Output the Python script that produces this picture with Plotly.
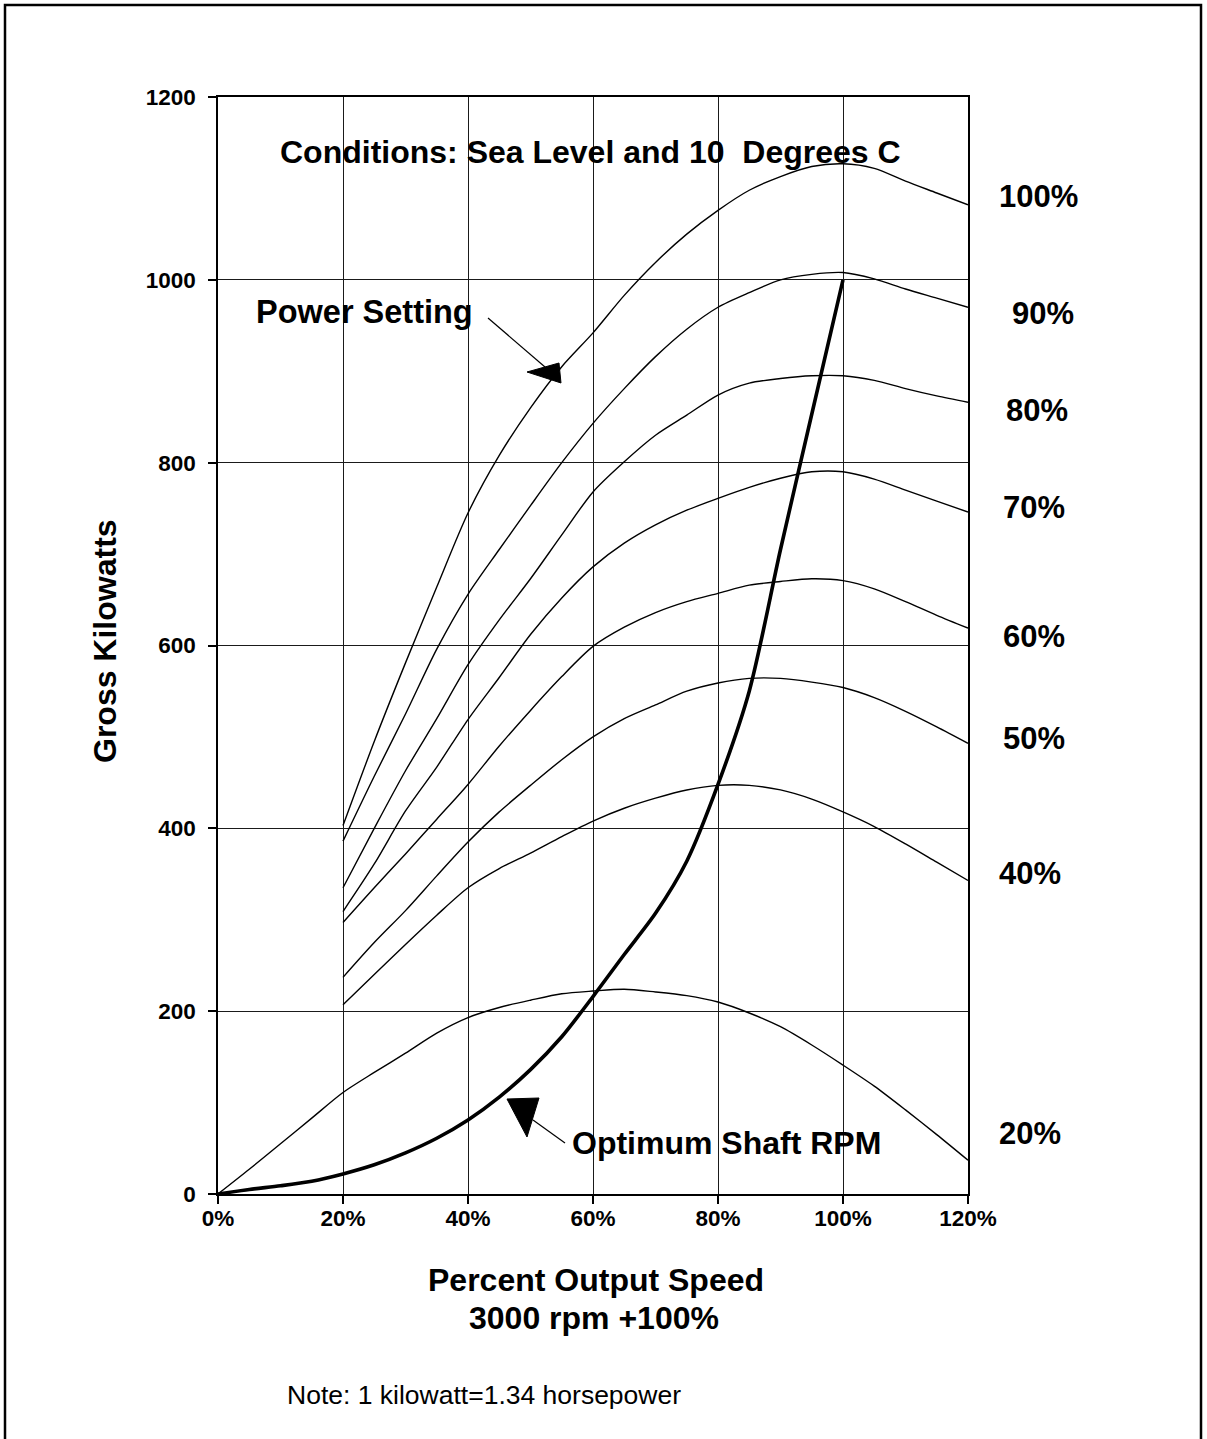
import plotly.graph_objects as go

# ---------------- data ----------------
speed_pct = [20, 25, 30, 35, 40, 45, 50, 55, 60, 65, 70, 75, 80, 85, 90, 95, 100, 105, 110, 115, 120]
kw_100 = [403, 495, 581, 664, 745, 808, 860, 905, 942, 983, 1019, 1050, 1076, 1098, 1113, 1124, 1127, 1122, 1108, 1095, 1082]
kw_90 = [386, 457, 525, 596, 656, 705, 753, 800, 843, 881, 916, 946, 970, 986, 1000, 1006, 1008, 1001, 990, 980, 970]
kw_80 = [335, 400, 463, 520, 579, 628, 673, 721, 768, 801, 830, 852, 874, 887, 892, 895, 895, 890, 881, 873, 866]
kw_70 = [309, 361, 419, 467, 519, 565, 612, 652, 686, 712, 732, 748, 761, 773, 783, 790, 790, 782, 770, 758, 746]
kw_60 = [297, 335, 372, 410, 448, 490, 529, 566, 599, 620, 636, 648, 657, 666, 670, 673, 671, 662, 648, 633, 619]
kw_50 = [237, 275, 310, 348, 385, 418, 447, 475, 500, 520, 535, 550, 559, 564, 564, 560, 554, 543, 528, 511, 493]
kw_40 = [207, 240, 273, 305, 335, 356, 373, 391, 408, 422, 433, 442, 447, 447, 442, 432, 418, 402, 383, 363, 343]

speed_pct_full = [0, 5, 10, 15, 20, 25, 30, 35, 40, 45, 50, 55, 60, 65, 70, 75, 80, 85, 90, 95, 100, 105, 110, 115, 120]
kw_20 = [0, 27, 55, 83, 111, 133, 154, 176, 193, 204, 212, 219, 222, 224, 221, 217, 210, 198, 183, 163, 141, 118, 92, 65, 37]

speed_pct_opt = [0, 5, 10, 15, 20, 25, 30, 35, 40, 45, 50, 55, 60, 65, 70, 75, 80, 85, 90, 95, 100]
kw_optimum = [0, 5, 9, 14, 22, 32, 45, 61, 81, 106, 136, 172, 216, 262, 307, 364, 448, 550, 705, 853, 1000]

power_labels = ["100%", "90%", "80%", "70%", "60%", "50%", "40%", "20%"]
x_tick_vals = [0, 20, 40, 60, 80, 100, 120]
x_tick_text = ["0%", "20%", "40%", "60%", "80%", "100%", "120%"]
y_tick_vals = [0, 200, 400, 600, 800, 1000, 1200]
y_tick_text = ["0", "200", "400", "600", "800", "1000", "1200"]

# ---------------- layout geometry ----------------
W, H = 1207, 1439
L, R, T, B = 218, 968, 97, 1194  # plot area in pixels


def px(xp):
    return (xp - L) / (R - L)


def py(yp):
    return (B - yp) / (B - T)


FONT = "Liberation Sans, Arial, Helvetica, sans-serif"

fig = go.Figure()

series = [kw_100, kw_90, kw_80, kw_70, kw_60, kw_50, kw_40]
for lbl, vals in zip(power_labels[:7], series):
    fig.add_trace(go.Scatter(x=speed_pct, y=vals, mode="lines", name=lbl,
                             line=dict(color="black", width=1.4, shape="spline", smoothing=0.8),
                             showlegend=False, hoverinfo="skip"))
fig.add_trace(go.Scatter(x=speed_pct_full, y=kw_20, mode="lines", name="20%",
                         line=dict(color="black", width=1.4, shape="spline", smoothing=0.8),
                         showlegend=False, hoverinfo="skip"))
fig.add_trace(go.Scatter(x=speed_pct_opt, y=kw_optimum, mode="lines", name="Optimum Shaft RPM",
                         line=dict(color="black", width=3.6, shape="spline", smoothing=0.8),
                         showlegend=False, hoverinfo="skip"))

fig.update_layout(
    width=W, height=H, template="none",
    paper_bgcolor="white", plot_bgcolor="white",
    margin=dict(l=L, r=W - R, t=T, b=H - B, autoexpand=False),
    font=dict(family=FONT, color="black"),
    xaxis=dict(range=[0, 120], tickvals=x_tick_vals, ticktext=x_tick_text,
               showgrid=True, gridcolor="#1a1a1a", gridwidth=1,
               showline=True, linecolor="black", linewidth=2, mirror=True,
               ticks="outside", ticklen=8, tickwidth=1.5, tickcolor="black",
               tickfont=dict(size=22.5, weight="bold", family=FONT),
               zeroline=False, automargin=False, ticklabelstandoff=-5),
    yaxis=dict(range=[0, 1200], tickvals=y_tick_vals, ticktext=y_tick_text,
               showgrid=True, gridcolor="#1a1a1a", gridwidth=1,
               showline=True, linecolor="black", linewidth=1.5, mirror=True,
               ticks="outside", ticklen=8, tickwidth=1.5, tickcolor="black",
               tickfont=dict(size=22.5, weight="bold", family=FONT),
               zeroline=False, automargin=False, ticklabelstandoff=8),
)

ann = []


def text(xp, yp, s, size=32, bold=True, xanchor="center", angle=0):
    ann.append(dict(x=px(xp), y=py(yp), xref="paper", yref="paper", text=s,
                    showarrow=False, xanchor=xanchor, yanchor="middle", textangle=angle,
                    font=dict(size=size, family=FONT, color="black",
                              weight="bold" if bold else "normal")))


text(590, 152, "Conditions: Sea Level and 10&nbsp; Degrees C")
text(364, 312, "Power Setting", size=32.5)
text(726, 1143, "Optimum Shaft RPM")
text(596, 1280, "Percent Output Speed")
text(594, 1318, "3000 rpm +100%")
text(105, 641, "Gross Kilowatts", angle=-90)
text(285, 1395, "Note: 1 kilowatt=1.34 horsepower", size=26.5, bold=False, xanchor="left")

label_pos = [(997, 197), (1010, 313), (1004, 410), (1001, 508), (1001, 636),
             (1001, 738), (997, 873), (997, 1133)]
for lbl, (lx, ly) in zip(power_labels, label_pos):
    text(lx, ly, lbl, size=31, xanchor="left")

shapes = [
    dict(type="rect", xref="paper", yref="paper", x0=px(5), x1=px(1201), y0=py(1460), y1=py(5),
         line=dict(color="black", width=2.5), fillcolor="rgba(0,0,0,0)", layer="below"),
    # pointer lines
    dict(type="line", xref="paper", yref="paper", x0=px(488), y0=py(318), x1=px(545), y1=py(367),
         line=dict(color="black", width=1.2)),
    dict(type="line", xref="paper", yref="paper", x0=px(565), y0=py(1143), x1=px(533), y1=py(1120),
         line=dict(color="black", width=1.2)),
]


def tri(pts):
    d = "M " + " L ".join(f"{px(a):.5f},{py(b):.5f}" for a, b in pts) + " Z"
    return dict(type="path", xref="paper", yref="paper", path=d,
                fillcolor="black", line=dict(color="black", width=1))


shapes.append(tri([(527, 372), (559, 363), (561, 383)]))
shapes.append(tri([(507, 1099), (539, 1098), (527, 1137)]))

fig.update_layout(annotations=ann, shapes=shapes)
fig.write_html("out.html", config={"displayModeBar": False},
               post_script="document.body.style.margin='0';document.body.style.overflow='hidden';")
